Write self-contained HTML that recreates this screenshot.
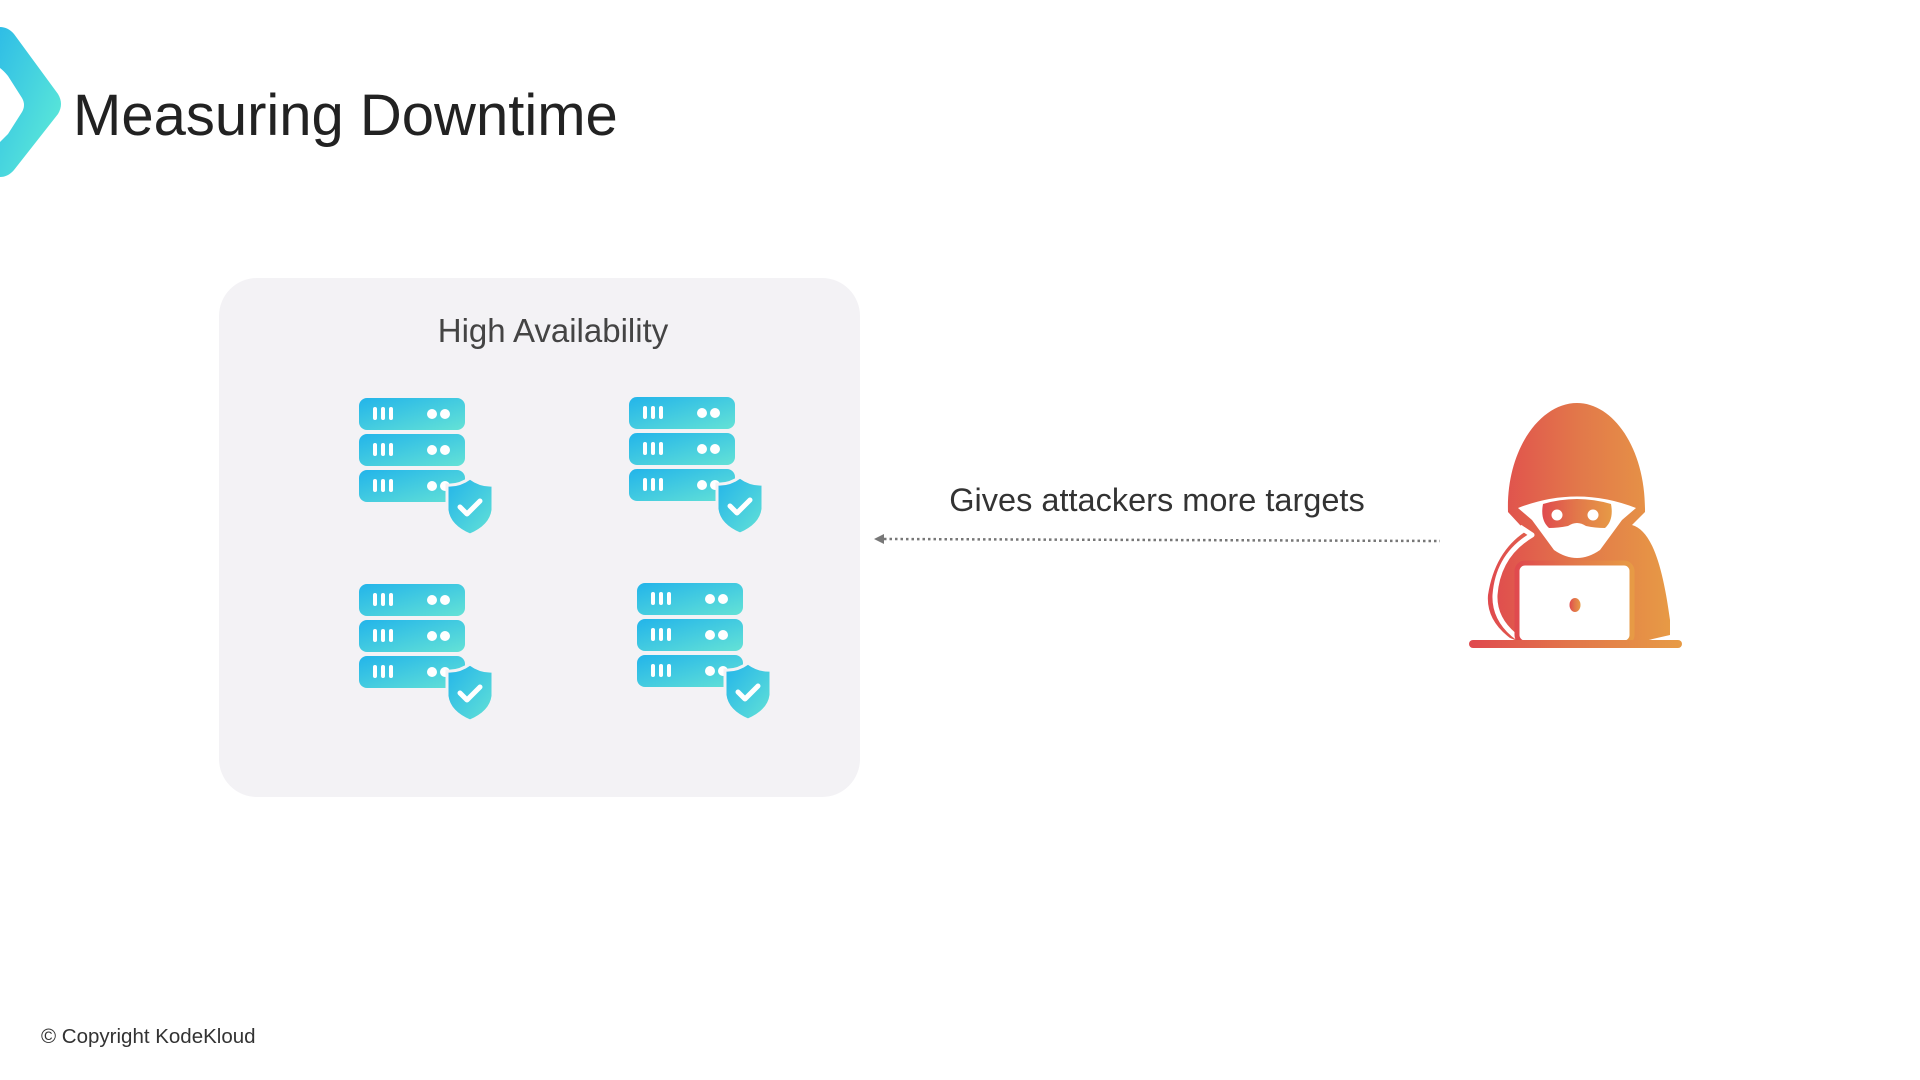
<!DOCTYPE html>
<html><head><meta charset="utf-8"><style>
body{margin:0;width:1920px;height:1080px;background:#fff;position:relative;overflow:hidden;font-family:"Liberation Sans",sans-serif}
.t{position:absolute;white-space:nowrap}
</style></head><body>
<svg width="1920" height="1080" style="position:absolute;left:0;top:0">
<defs>
<linearGradient id="lg" x1="0" y1="0" x2="1" y2="1"><stop offset="0" stop-color="#2fbde6"/><stop offset="1" stop-color="#62efd6"/></linearGradient>
<linearGradient id="sg" x1="0" y1="0" x2="1" y2="1"><stop offset="0" stop-color="#22b4ea"/><stop offset="1" stop-color="#64e2d6"/></linearGradient>
<linearGradient id="hg" x1="0" y1="0" x2="1" y2="0"><stop offset="0" stop-color="#e04a4e"/><stop offset="0.5" stop-color="#e2784a"/><stop offset="1" stop-color="#e79a45"/></linearGradient>
<linearGradient id="hgu" gradientUnits="userSpaceOnUse" x1="72" y1="0" x2="279" y2="0"><stop offset="0" stop-color="#e04a4e"/><stop offset="0.5" stop-color="#e2784a"/><stop offset="1" stop-color="#e79a45"/></linearGradient>
<g id="srv">
  <rect x="0" y="0" width="106" height="32" rx="8" fill="url(#sg)"/>
  <rect x="0" y="36" width="106" height="32" rx="8" fill="url(#sg)"/>
  <rect x="0" y="72" width="106" height="32" rx="8" fill="url(#sg)"/>
  <g fill="#fff">
   <rect x="14" y="9" width="4" height="13" rx="2"/><rect x="22" y="9" width="4" height="13" rx="2"/><rect x="30" y="9" width="4" height="13" rx="2"/>
   <circle cx="73" cy="16" r="5"/><circle cx="86" cy="16" r="5"/>
   <rect x="14" y="45" width="4" height="13" rx="2"/><rect x="22" y="45" width="4" height="13" rx="2"/><rect x="30" y="45" width="4" height="13" rx="2"/>
   <circle cx="73" cy="52" r="5"/><circle cx="86" cy="52" r="5"/>
   <rect x="14" y="81" width="4" height="13" rx="2"/><rect x="22" y="81" width="4" height="13" rx="2"/><rect x="30" y="81" width="4" height="13" rx="2"/>
   <circle cx="73" cy="88" r="5"/><circle cx="86" cy="88" r="5"/>
  </g>
  <path d="M111,80 Q100,88 88,87 L88,112 Q90,128 111,137 Q132,128 134,112 L134,87 Q122,88 111,80Z" fill="url(#sg)" stroke="#f3f2f5" stroke-width="3"/>
  <path d="M101,109 L108,116 L121,103" fill="none" stroke="#fff" stroke-width="5" stroke-linecap="round" stroke-linejoin="round"/>
</g>
</defs>
<path d="M0,27 Q8,27 14,34 L58,94 Q64,104 58,114 L14,170 Q8,177 0,177 L0,142 Q4,138 8,134 L22,112 Q26,105 22,98 L8,76 Q4,71 0,68Z" fill="url(#lg)"/>
<rect x="219" y="278" width="641" height="519" rx="38" fill="#f3f2f5"/>
<use href="#srv" x="359" y="398"/>
<use href="#srv" x="629" y="397"/>
<use href="#srv" x="359" y="584"/>
<use href="#srv" x="637" y="583"/>
<line x1="884" y1="539" x2="1440" y2="541" stroke="#777" stroke-width="2.5" stroke-dasharray="2.5,3"/>
<path d="M874,539 L884,534 L884,544Z" fill="#777"/>
<g transform="translate(1400,380)">
  <path d="M108,132 C106,70 140,23 177,23 C214,23 246,70 245,132 L232,145 C250,150 262,180 270,240 L270,255 L240,262 L120,262 L110,258 Q86,240 88,215 Q95,170 128,150 L120,145Z" fill="url(#hg)"/>
  <path d="M120,147 L132,155 Q98,175 95,215 Q94,238 114,255 L118,258" fill="none" stroke="#fff" stroke-width="5" stroke-linejoin="round"/>
  <path d="M118,128 Q177,105 236,128 L222,140 L200,170 Q177,186 154,170 L132,140Z" fill="#fff"/>
  <path d="M143,124 Q177,114 211,124 Q214,140 205,148 Q195,148 186,146 Q177,140 168,146 Q158,148 149,148 Q140,140 143,124Z" fill="url(#hg)"/>
  <circle cx="157" cy="135" r="5.5" fill="#fff"/><circle cx="193" cy="135" r="5.5" fill="#fff"/>
  <rect x="117" y="183" width="115" height="80" rx="8" fill="#fff" stroke="url(#hg)" stroke-width="5"/>
  <ellipse cx="175" cy="225" rx="5.5" ry="7" fill="url(#hg)"/>
  <rect x="69" y="260" width="213" height="8" rx="4" fill="url(#hgu)"/>
</g>
</svg>
<div class="t" style="left:73px;top:82px;font-size:58px;color:#222">Measuring Downtime</div>
<div class="t" style="left:253px;width:600px;text-align:center;top:312px;font-size:33px;color:#444">High Availability</div>
<div class="t" style="left:857px;width:600px;text-align:center;top:482px;font-size:32.5px;color:#333">Gives attackers more targets</div>
<div class="t" style="left:41px;top:1025px;font-size:20.5px;color:#333">© Copyright KodeKloud</div>
</body></html>
